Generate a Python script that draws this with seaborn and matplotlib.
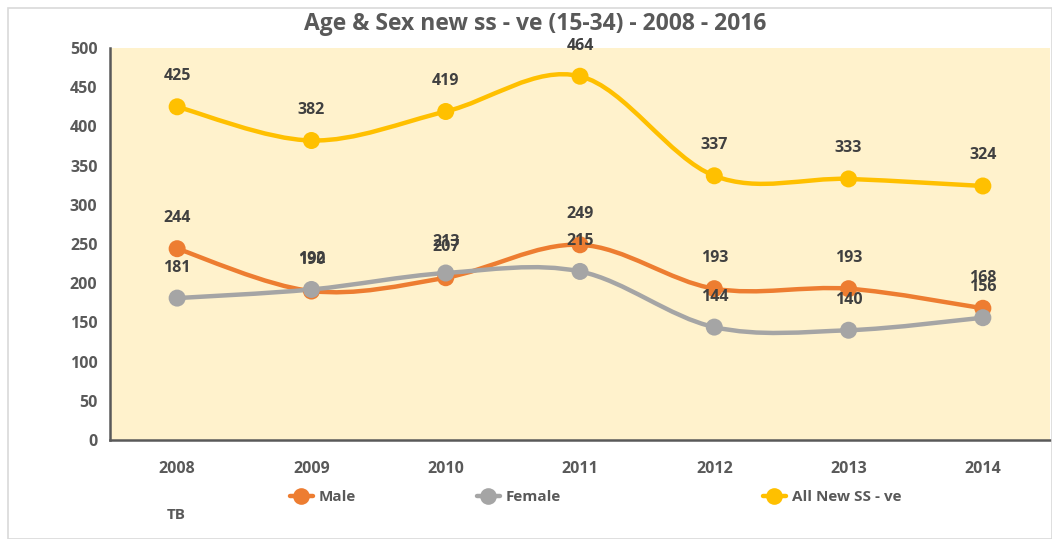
import numpy as np
import pandas as pd
import matplotlib
matplotlib.use("Agg")
import matplotlib.pyplot as plt
from matplotlib.path import Path
from matplotlib.patches import PathPatch, Rectangle
from matplotlib.lines import Line2D
import seaborn as sns

years = ["2008", "2009", "2010", "2011", "2012", "2013", "2014"]
male = [244, 190, 207, 249, 193, 193, 168]
female = [181, 192, 213, 215, 144, 140, 156]
all_new = [425, 382, 419, 464, 337, 333, 324]
series_names = ["Male", "Female", "All New SS - ve"]
colors = ["#ED7D31", "#A5A5A5", "#FFC000"]

sns.set_theme(style="white")
plt.rcParams["font.family"] = ["Open Sans", "DejaVu Sans"]

fig = plt.figure(figsize=(10.52, 5.39), dpi=100)
W, H = 1052, 539
ax = fig.add_axes([110 / W, 1 - 440 / H, (1050 - 110) / W, (440 - 48) / H])
ax.set_facecolor("#FFF2CC")

df = pd.DataFrame({"Year": years * 3,
                   "Value": male + female + all_new,
                   "Series": sum([[s] * len(years) for s in series_names], [])})
df["x"] = np.tile(np.arange(len(years)), 3)

sns.scatterplot(data=df, x="x", y="Value", hue="Series", palette=colors,
                s=150, edgecolor="none", legend=False, ax=ax, zorder=4)


def smooth_path(xs, ys, t=1 / 6):
    pts = np.column_stack([xs, ys]).astype(float)
    verts = [pts[0]]
    codes = [Path.MOVETO]
    n = len(pts)
    for i in range(n - 1):
        p0 = pts[i - 1] if i > 0 else pts[i]
        p1 = pts[i]
        p2 = pts[i + 1]
        p3 = pts[i + 2] if i + 2 < n else pts[i + 1]
        c1 = p1 + (p2 - p0) * t
        c2 = p2 - (p3 - p1) * t
        verts += [c1, c2, p2]
        codes += [Path.CURVE4] * 3
    return Path(verts, codes)


xs = np.arange(len(years))
for vals, c in zip([male, female, all_new], colors):
    ax.add_patch(PathPatch(smooth_path(xs, vals), facecolor="none",
                           edgecolor=c, lw=3.2, zorder=3, capstyle="round"))
    for x, v in zip(xs, vals):
        ax.annotate(str(v), (x, v), xytext=(0, 22), textcoords="offset points",
                    ha="center", va="center", fontsize=11.5, fontweight="bold",
                    color="#404040", zorder=5)

ax.set_xlim(-0.5, 6.5)
ax.set_ylim(0, 500)
ax.set_yticks(range(0, 501, 50))
ax.set_xticks(xs)
ax.set_xticklabels(years)
ax.set_xlabel("")
ax.set_ylabel("")
ax.tick_params(axis="both", length=0, labelsize=11.5, labelcolor="#595959")
ax.tick_params(axis="y", pad=9)
ax.tick_params(axis="x", pad=15)
for lab in ax.get_xticklabels() + ax.get_yticklabels():
    lab.set_fontweight("bold")
for s in ["top", "right"]:
    ax.spines[s].set_visible(False)
for s in ["left", "bottom"]:
    ax.spines[s].set_color("#595959")
    ax.spines[s].set_linewidth(1.8)

fig.text(535 / W, 1 - 24 / H, "Age & Sex new ss - ve (15-34) - 2008 - 2016",
         ha="center", va="center", fontsize=16.5, fontweight="bold", color="#595959")
fig.text(176 / W, 1 - 515 / H, "TB", ha="center", va="center", fontsize=11,
         fontweight="bold", color="#595959")

# legend entries placed individually (Excel-like uneven spacing)
marker_x = [312, 499, 785]
for name, c, mx in zip(series_names, colors, marker_x):
    h = Line2D([0], [0], color=c, lw=3.2, marker="o", markersize=12,
               markeredgecolor="none")
    leg = fig.legend([h], [name], loc="center left",
                     bbox_to_anchor=((mx - 22) / W, 1 - 497 / H), frameon=False,
                     handlelength=1.5, handletextpad=0.4, borderaxespad=0,
                     borderpad=0, prop={"weight": "bold", "size": 11})
    for t in leg.get_texts():
        t.set_color("#595959")

fig.patches.append(Rectangle((8 / W, 0), 1 - 8 / W, 1 - 8 / H,
                             transform=fig.transFigure, fill=False,
                             edgecolor="#D9D9D9", lw=1.2))

fig.savefig("out.png", dpi=100, facecolor="white")
